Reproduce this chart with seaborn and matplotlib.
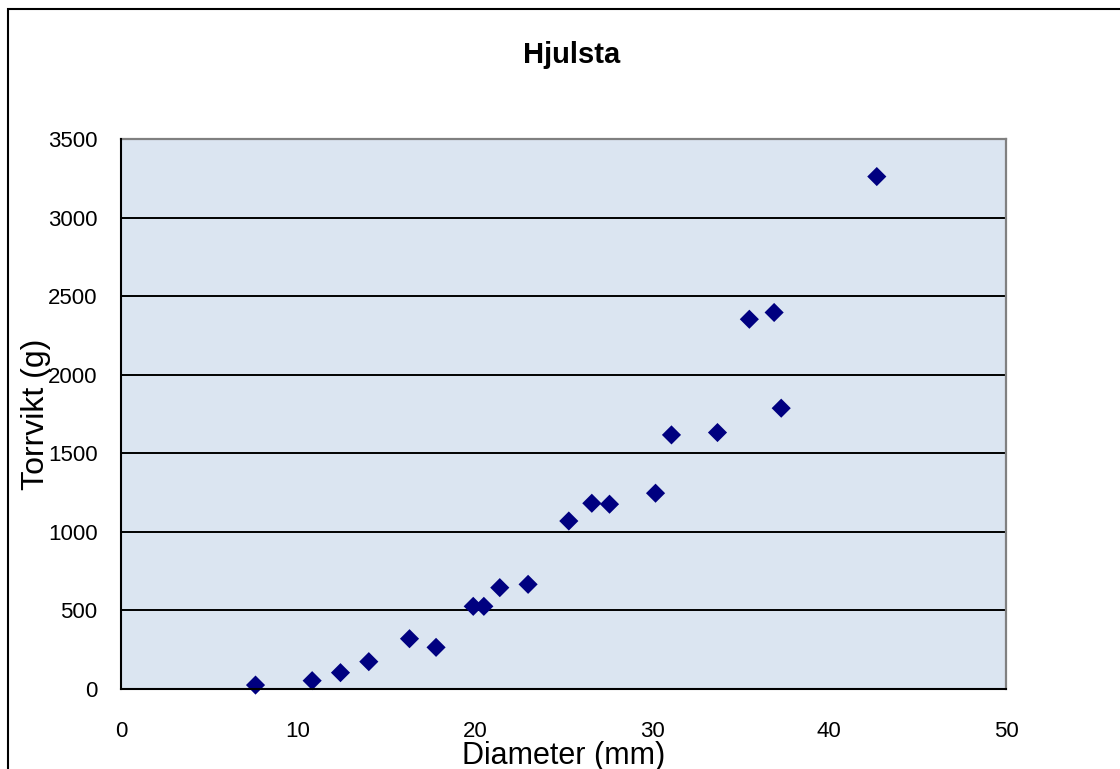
import matplotlib
matplotlib.use("Agg")
import matplotlib.pyplot as plt
from matplotlib.patches import Rectangle
import seaborn as sns
import pandas as pd

# Stem diameter vs. dry weight, Hjulsta
diameter_mm = [7.6, 10.8, 12.4, 14.0, 16.3, 17.8, 19.9, 20.5, 21.4, 23.0,
               25.3, 26.6, 27.6, 30.2, 31.1, 33.7, 35.5, 36.9, 37.3, 42.7]
dry_weight_g = [25, 53, 104, 174, 320, 265, 526, 526, 645, 666,
                1069, 1182, 1176, 1246, 1617, 1632, 2353, 2396, 1787, 3261]

x_ticks = [0, 10, 20, 30, 40, 50]
y_ticks = [0, 500, 1000, 1500, 2000, 2500, 3000, 3500]

df = pd.DataFrame({"Diameter (mm)": diameter_mm, "Torrvikt (g)": dry_weight_g})

sns.set_theme(style="white")
plt.rcParams["font.family"] = ["Liberation Sans", "DejaVu Sans"]

W, H = 1120, 769
fig = plt.figure(figsize=(W / 100, H / 100), dpi=100)
fig.patch.set_facecolor("white")

left, right, top, bottom = 121, 1006, 139, 689
ax = fig.add_axes([left / W, (H - bottom) / H, (right - left) / W, (bottom - top) / H])
ax.set_facecolor("#DBE5F1")

ax.set_axisbelow(True)
ax.yaxis.grid(True, color="black", linewidth=1.4)
ax.xaxis.grid(False)

sns.scatterplot(data=df, x="Diameter (mm)", y="Torrvikt (g)", ax=ax,
                marker="D", s=95, color="#000080", edgecolor="none",
                linewidth=0, zorder=3, clip_on=False)

ax.set_xlim(0, 50)
ax.set_ylim(0, 3500)
ax.set_xticks(x_ticks)
ax.set_yticks(y_ticks)
ax.tick_params(axis="both", which="major", direction="out", length=5,
               width=1.2, color="black", labelsize=16, labelcolor="black")
ax.tick_params(axis="y", pad=12)
ax.tick_params(axis="x", pad=18)

for side in ("left", "bottom"):
    ax.spines[side].set_color("black")
    ax.spines[side].set_linewidth(1.5)
    ax.spines[side].set_zorder(4)
for side in ("top", "right"):
    ax.spines[side].set_color("#808080")
    ax.spines[side].set_linewidth(1.6)

ax.set_xlabel("Diameter (mm)", fontsize=22, color="black")
ax.set_ylabel("Torrvikt (g)", fontsize=23, color="black")
ax.xaxis.label.set_va("top")
ax.xaxis.set_label_coords(0.5, -0.094)
ax.yaxis.label.set_va("center")
ax.yaxis.set_label_coords(-0.096, 0.5)

fig.text(572 / W, 1 - 55 / H, "Hjulsta", ha="center", va="center",
         fontsize=21, fontweight="bold", color="black")

# chart frame around the figure
fig.patches.append(Rectangle((7.5 / W, -0.1), 1.2, (H - 9) / H + 0.1,
                             transform=fig.transFigure, fill=False,
                             edgecolor="black", linewidth=1.5))

fig.savefig("out.png", dpi=100, facecolor="white")
